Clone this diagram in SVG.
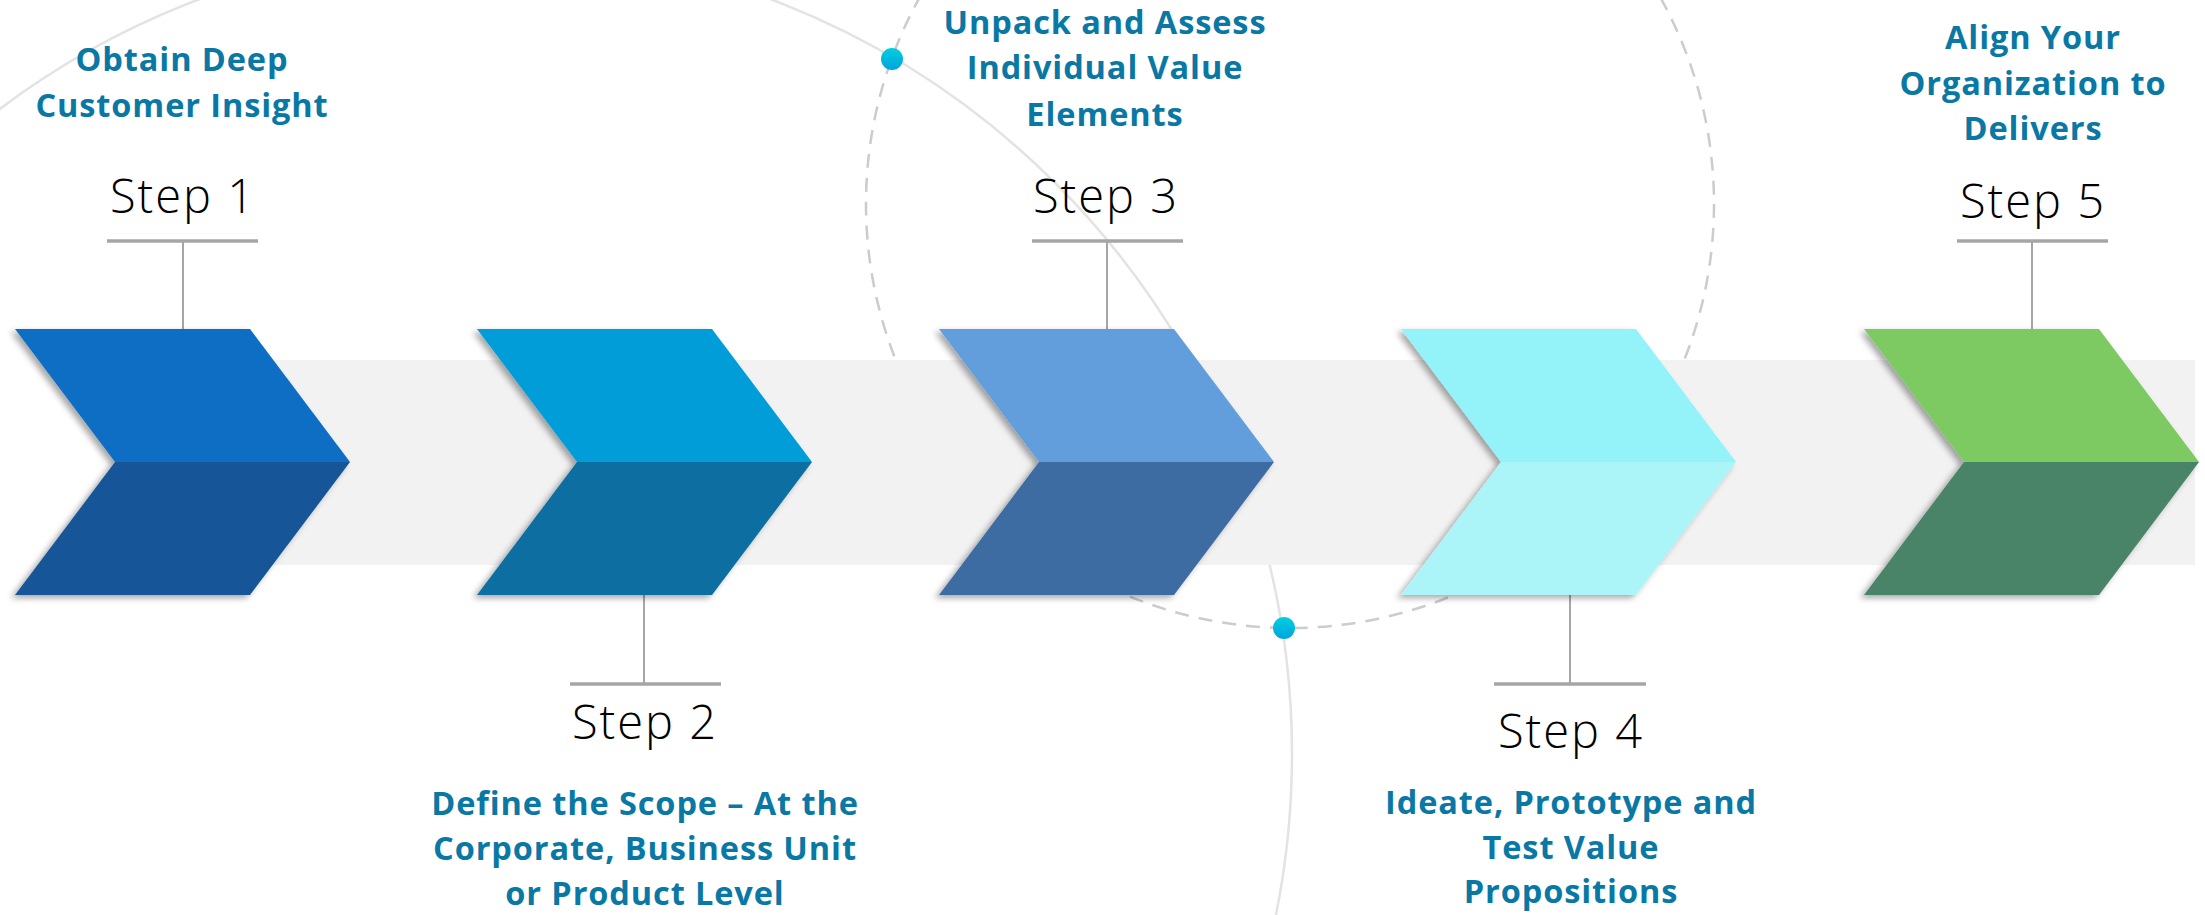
<svg xmlns="http://www.w3.org/2000/svg" width="2205" height="915" viewBox="0 0 2205 915">
  <defs>
    <filter id="chevShadow" x="-10%" y="-10%" width="120%" height="125%">
      <feDropShadow dx="-4" dy="3" stdDeviation="3" flood-color="#000" flood-opacity="0.35"/>
    </filter>
    <linearGradient id="dotFill" x1="0" y1="0" x2="0" y2="1">
      <stop offset="0" stop-color="#00cfe0"/>
      <stop offset="1" stop-color="#00a4dc"/>
    </linearGradient>
    <style>
      .ring { fill: none; stroke: #e3e3e3; stroke-width: 2.5; }
      .dash { fill: none; stroke: #cccccc; stroke-width: 2.5; stroke-dasharray: 14 10; }
      .band { fill: #f2f2f2; }
      .stem { stroke: #a6a6a6; stroke-width: 2; fill: none; }
      .bar { stroke: #a6a6a6; stroke-width: 3.5; fill: none; }
      .step { font-family: "Open Sans", "Liberation Sans", sans-serif; font-weight: 300; font-size: 47px; fill: #000; text-anchor: middle; letter-spacing: 2px; }
      .desc { font-family: "Open Sans", "Liberation Sans", sans-serif; font-weight: 700; font-size: 32.5px; fill: #0a78a4; text-anchor: middle; letter-spacing: 0.9px; }
      .dot { fill: url(#dotFill); }
    </style>
  </defs>

  <rect width="2205" height="915" fill="#ffffff"/>

  <!-- background rings -->
  <g id="rings">
    <circle class="ring" cx="485" cy="754" r="807"/>
    <circle class="dash" cx="1290" cy="204" r="424"/>
  </g>

  <!-- grey band behind the chevrons -->
  <rect class="band" x="115" y="360" width="2080" height="205"/>

  <!-- leader lines from labels to chevrons -->
  <g id="connectors">
    <line class="stem" x1="183" y1="241" x2="183" y2="330"/>
    <line class="bar" x1="107" y1="241" x2="258" y2="241"/>
    <line class="stem" x1="644" y1="594" x2="644" y2="684"/>
    <line class="bar" x1="570" y1="684" x2="721" y2="684"/>
    <line class="stem" x1="1107" y1="241" x2="1107" y2="330"/>
    <line class="bar" x1="1032" y1="241" x2="1183" y2="241"/>
    <line class="stem" x1="1570" y1="594" x2="1570" y2="684"/>
    <line class="bar" x1="1494" y1="684" x2="1646" y2="684"/>
    <line class="stem" x1="2032" y1="241" x2="2032" y2="330"/>
    <line class="bar" x1="1957" y1="241" x2="2108" y2="241"/>
  </g>

  <!-- step 1 -->
  <g id="step1">
    <g filter="url(#chevShadow)">
      <polygon points="15,329 250,329 350,462 115,462" fill="#106ec4"/>
      <polygon points="115,462 350,462 250,595 15,595" fill="#145598"/>
    </g>
    <text class="step" x="183" y="213">Step 1</text>
    <text class="desc" x="182" y="71">Obtain Deep</text>
    <text class="desc" x="182" y="117">Customer Insight</text>
  </g>

  <!-- step 2 -->
  <g id="step2">
    <g filter="url(#chevShadow)">
      <polygon points="477,329 712,329 812,462 577,462" fill="#039dd8"/>
      <polygon points="577,462 812,462 712,595 477,595" fill="#0b6ea2"/>
    </g>
    <text class="step" x="645" y="739">Step 2</text>
    <text class="desc" x="645" y="815">Define the Scope – At the</text>
    <text class="desc" x="645" y="860">Corporate, Business Unit</text>
    <text class="desc" x="645" y="905">or Product Level</text>
  </g>

  <!-- step 3 -->
  <g id="step3">
    <g filter="url(#chevShadow)">
      <polygon points="939,329 1174,329 1274,462 1039,462" fill="#649edc"/>
      <polygon points="1039,462 1274,462 1174,595 939,595" fill="#3d6ca3"/>
    </g>
    <text class="step" x="1106" y="213">Step 3</text>
    <text class="desc" x="1105" y="34">Unpack and Assess</text>
    <text class="desc" x="1105" y="79">Individual Value</text>
    <text class="desc" x="1105" y="126">Elements</text>
  </g>

  <!-- step 4 -->
  <g id="step4">
    <g filter="url(#chevShadow)">
      <polygon points="1401,329 1636,329 1736,462 1501,462" fill="#94f3f9"/>
      <polygon points="1501,462 1736,462 1636,595 1401,595" fill="#abf5f8"/>
    </g>
    <text class="step" x="1571" y="748">Step 4</text>
    <text class="desc" x="1571" y="814">Ideate, Prototype and</text>
    <text class="desc" x="1571" y="859">Test Value</text>
    <text class="desc" x="1571" y="903">Propositions</text>
  </g>

  <!-- step 5 -->
  <g id="step5">
    <g filter="url(#chevShadow)">
      <polygon points="1864,329 2099,329 2199,462 1964,462" fill="#7dca62"/>
      <polygon points="1964,462 2199,462 2099,595 1864,595" fill="#498467"/>
    </g>
    <text class="step" x="2033" y="218">Step 5</text>
    <text class="desc" x="2033" y="49">Align Your</text>
    <text class="desc" x="2033" y="95">Organization to</text>
    <text class="desc" x="2033" y="140">Delivers</text>
  </g>

  <!-- markers where the rings cross -->
  <g id="ring-dots">
    <circle class="dot" cx="892" cy="59" r="11"/>
    <circle class="dot" cx="1284" cy="628" r="11"/>
  </g>
</svg>
